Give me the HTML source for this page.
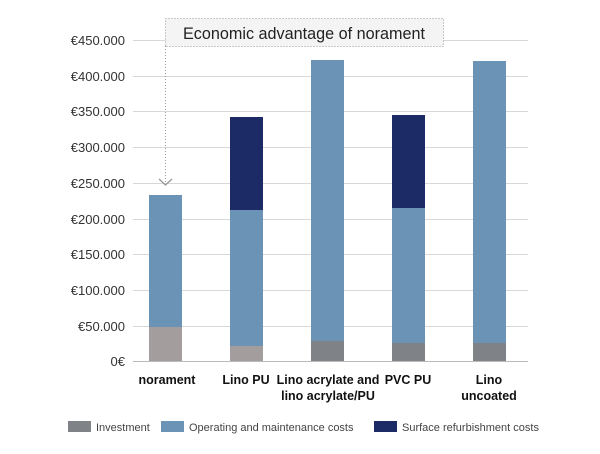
<!DOCTYPE html>
<html><head><meta charset="utf-8"><style>
body{margin:0;background:#fff;width:600px;height:449px;overflow:hidden;font-family:"Liberation Sans",sans-serif}
</style></head><body>
<svg width="600" height="449" xmlns="http://www.w3.org/2000/svg" font-family="Liberation Sans, sans-serif">
<g stroke="#d8d8d8" stroke-width="1">
<line x1="133" x2="528" y1="40.5" y2="40.5"/>
<line x1="133" x2="528" y1="76.5" y2="76.5"/>
<line x1="133" x2="528" y1="111.5" y2="111.5"/>
<line x1="133" x2="528" y1="147.5" y2="147.5"/>
<line x1="133" x2="528" y1="183.5" y2="183.5"/>
<line x1="133" x2="528" y1="219.5" y2="219.5"/>
<line x1="133" x2="528" y1="254.5" y2="254.5"/>
<line x1="133" x2="528" y1="290.5" y2="290.5"/>
<line x1="133" x2="528" y1="326.5" y2="326.5"/>
</g>
<line x1="133" x2="528" y1="361.5" y2="361.5" stroke="#bbb"/>
<g font-size="13" fill="#333" text-anchor="end">
<text x="125" y="45">€450.000</text>
<text x="125" y="81">€400.000</text>
<text x="125" y="116">€350.000</text>
<text x="125" y="152">€300.000</text>
<text x="125" y="188">€250.000</text>
<text x="125" y="224">€200.000</text>
<text x="125" y="259">€150.000</text>
<text x="125" y="295">€100.000</text>
<text x="125" y="331">€50.000</text>
<text x="125" y="366">0€</text>
</g>
<rect x="149" y="195" width="33" height="132" fill="#6b93b6"/>
<rect x="149" y="327" width="33" height="34" fill="#a39d9d"/>
<rect x="230" y="117" width="33" height="93" fill="#1c2a66"/>
<rect x="230" y="210" width="33" height="136" fill="#6b93b6"/>
<rect x="230" y="346" width="33" height="15" fill="#a39d9d"/>
<rect x="311" y="60" width="33" height="281" fill="#6b93b6"/>
<rect x="311" y="341" width="33" height="20" fill="#7f8286"/>
<rect x="392" y="115" width="33" height="93" fill="#1c2a66"/>
<rect x="392" y="208" width="33" height="135" fill="#6b93b6"/>
<rect x="392" y="343" width="33" height="18" fill="#7f8286"/>
<rect x="473" y="61" width="33" height="282" fill="#6b93b6"/>
<rect x="473" y="343" width="33" height="18" fill="#7f8286"/>
<rect x="165.5" y="18.5" width="278" height="28" fill="#f4f4f4" stroke="#999" stroke-dasharray="1,2"/>
<line x1="165.5" x2="165.5" y1="46" y2="184" stroke="#999" stroke-dasharray="1,2"/>
<polyline points="159,179 165.5,185 172,179" fill="none" stroke="#999" stroke-width="1.3"/>
<text x="183" y="39" font-size="16.5" fill="#222" textLength="242" lengthAdjust="spacingAndGlyphs">Economic advantage of norament</text>
<g font-size="12.5" font-weight="bold" fill="#111" text-anchor="middle">
<text x="167" y="384">norament</text>
<text x="246" y="384">Lino PU</text>
<text x="328" y="384">Lino acrylate and</text>
<text x="328" y="400">lino acrylate/PU</text>
<text x="408" y="384">PVC PU</text>
<text x="489" y="384">Lino</text>
<text x="489" y="400">uncoated</text>
</g>
<rect x="68" y="421" width="23" height="11" fill="#7f8286"/>
<text x="96" y="431" font-size="11" fill="#444">Investment</text>
<rect x="161" y="421" width="23" height="11" fill="#6b93b6"/>
<text x="189" y="431" font-size="11" fill="#444">Operating and maintenance costs</text>
<rect x="374" y="421" width="23" height="11" fill="#1c2a66"/>
<text x="402" y="431" font-size="11" fill="#444">Surface refurbishment costs</text>
</svg>
</body></html>
